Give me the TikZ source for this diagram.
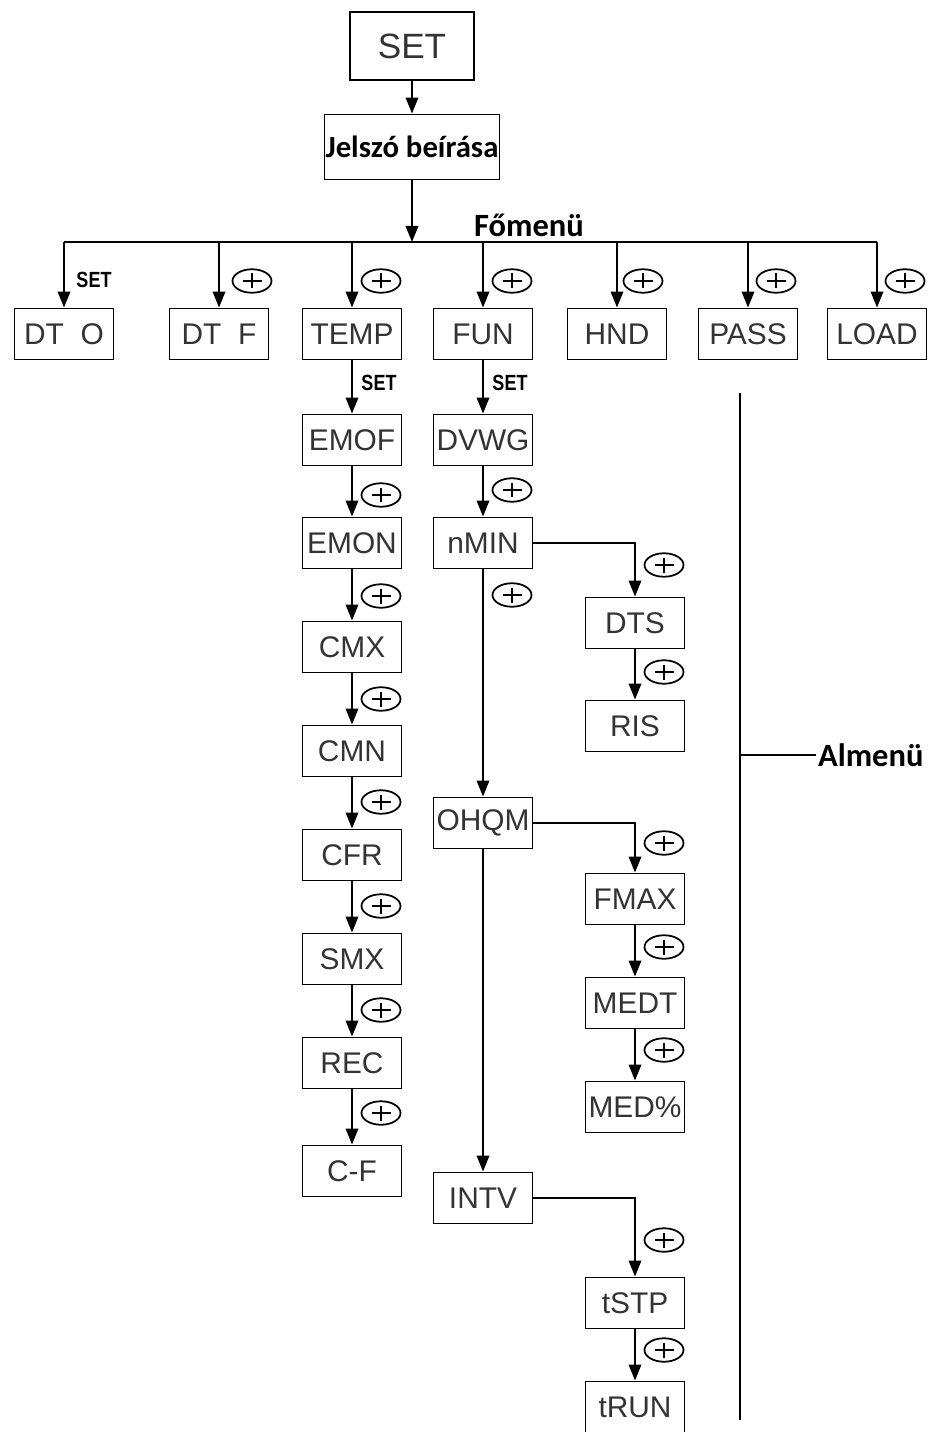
\documentclass[tikz,border=0pt]{standalone}
\usepackage{fontspec}
\setsansfont{Liberation Sans}
\newfontfamily\menufont{Carlito}
\newfontfamily\narrowfont{Liberation Sans}[FakeStretch=0.82]
\usetikzlibrary{arrows.meta, positioning}
\usetikzlibrary{shapes.geometric}

\begin{document}
\begin{tikzpicture}[x=0.02cm, y=-0.02cm,
  arr/.style={-{Triangle[length=0.32cm,width=0.25cm]}, line width=1.1pt},
  box/.style={draw, line width=1.1pt, minimum width=1.98cm, minimum height=1.02cm,
    inner sep=0pt, text=black!80, font=\sffamily\fontsize{17}{17}\selectfont},
  plusmark/.style={draw, ellipse, line width=1pt, minimum width=0.78cm,
    minimum height=0.47cm, inner sep=0pt,
    path picture={\draw[line width=1pt]
      ([xshift=-0.19cm]path picture bounding box.center) -- ([xshift=0.19cm]path picture bounding box.center)
      ([yshift=-0.15cm]path picture bounding box.center) -- ([yshift=0.15cm]path picture bounding box.center);}},
  setlbl/.style={font=\narrowfont\bfseries\fontsize{12.5}{12.5}\selectfont},
  menulbl/.style={font=\menufont\bfseries\fontsize{18.5}{18.5}\selectfont}]

\useasboundingbox (0,0) rectangle (929,1432);

% Top: SET and password
\node[box, minimum width=2.48cm, minimum height=1.36cm, font=\sffamily\fontsize{20}{20}\selectfont] (set) at (412,46) {SET};
\node[box, minimum width=3.5cm, minimum height=1.3cm, text=black, font=\menufont\bfseries\fontsize{17.5}{17.5}\selectfont] (jelszo) at (412,147) {Jelszó beírása};
\draw[arr] (set) -- (jelszo);

% Main menu bus
\coordinate (bus) at (412,242);
\node[menulbl] (fomenu) at (529,225) {Főmenü};
\draw[arr] (jelszo) -- (bus);

% Main menu items
\foreach \n/\t/\x in {dto/DT\ \ O/64, dtf/DT\ \ F/219, temp/TEMP/352, fun/FUN/483, hnd/HND/617, pass/PASS/748, load/LOAD/877}
{
    \node[box] (\n) at (\x,334) {\t};
}
\draw[line width=1.1pt] (dto |- bus) -- (load |- bus);
\foreach \n in {dto, dtf, temp, fun, hnd, pass, load}
{
    \draw[arr] (\n |- bus) -- (\n);
}

% TEMP submenu
\foreach \n/\t/\y in {emof/EMOF/440, emon/EMON/543, cmx/CMX/647, cmn/CMN/751, cfr/CFR/855, smx/SMX/959, rec/REC/1063, cf/C-F/1171}
{
    \node[box] (\n) at (352,\y) {\t};
}
\foreach \a/\b in {temp/emof, emof/emon, emon/cmx, cmx/cmn, cmn/cfr, cfr/smx, smx/rec, rec/cf}
{
    \draw[arr] (\a) -- (\b);
}

% FUN submenu
\foreach \n/\t/\y in {dvwg/DVWG/440, nmin/nMIN/543, ohqm/OHQM/823, intv/INTV/1198}
{
    \node[box] (\n) at (483,\y) {\t};
}
\foreach \a/\b in {fun/dvwg, dvwg/nmin, nmin/ohqm, ohqm/intv}
{
    \draw[arr] (\a) -- (\b);
}

% Third level
\foreach \n/\t/\y in {dts/DTS/623, ris/RIS/726, fmax/FMAX/899, medt/MEDT/1003, medp/MED\%/1107, tstp/tSTP/1303, trun/tRUN/1407}
{
    \node[box] (\n) at (635,\y) {\t};
}
\draw[arr] (nmin) -| (dts);
\draw[arr] (ohqm) -| (fmax);
\draw[arr] (intv) -| (tstp);
\foreach \a/\b in {dts/ris, fmax/medt, medt/medp, tstp/trun}
{
    \draw[arr] (\a) -- (\b);
}

% SET labels
\foreach \x/\y [count=\i] in {94/280, 379/383, 510/383}
{
    \node[setlbl] (s\i) at (\x,\y) {SET};
}

% Plus keys
\foreach \x/\y [count=\i] in {252/281, 381/281, 512/281, 643/281, 776/281, 905/281,
    381/495, 381/596, 381/699, 381/802, 381/906, 381/1010, 381/1113,
    512/490, 512/595,
    664/565, 664/672, 664/843, 664/947, 664/1050, 664/1240, 664/1350}
{
    \node[plusmark] (p\i) at (\x,\y) {};
}

% Submenu bracket
\coordinate (almtop) at (740,393);
\coordinate (almbot) at (740,1420);
\coordinate (almmid) at (740,755);
\node[menulbl, anchor=west, inner sep=1pt] (almenu) at (816,755) {Almenü};
\draw[line width=1pt] (almtop) -- (almbot);
\draw[line width=1pt] (almmid) -- (almenu.west);

\end{tikzpicture}
\end{document}
